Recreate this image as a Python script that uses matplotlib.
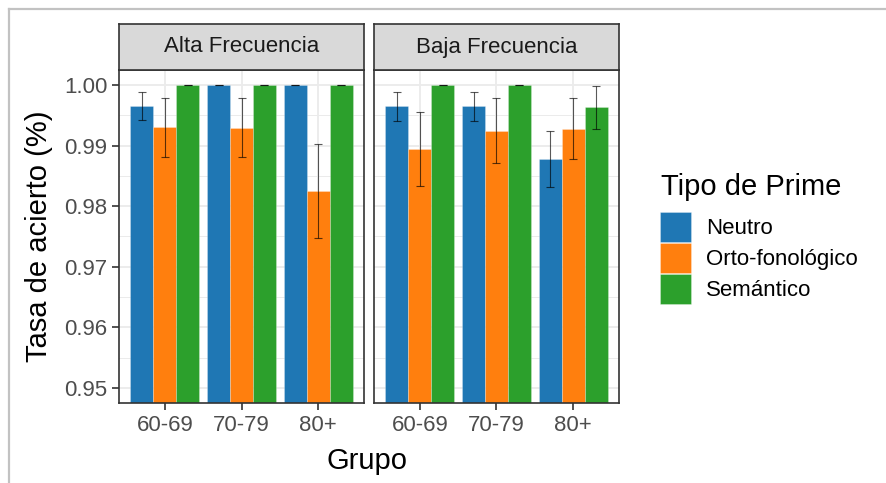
import matplotlib
matplotlib.use("Agg")
import matplotlib.pyplot as plt
import numpy as np
from matplotlib.patches import Rectangle
from matplotlib.lines import Line2D

plt.rcParams['font.family'] = ['Liberation Sans', 'DejaVu Sans']

grupos = ["60-69", "70-79", "80+"]
paneles = ["Alta Frecuencia", "Baja Frecuencia"]
tipos = ["Neutro", "Orto-fonológico", "Semántico"]
colores = ["#1F77B4", "#FF7F0E", "#2CA02C"]

# mean hit rate per panel -> prime type -> age group
alta_neutro = [0.99654, 1.0, 1.0]
alta_orto = [0.99302, 0.99295, 0.98253]
alta_sem = [1.0, 1.0, 1.0]
baja_neutro = [0.99654, 0.99654, 0.98775]
baja_orto = [0.98945, 0.99247, 0.99280]
baja_sem = [1.0, 1.0, 0.99637]

# error bar half-widths
alta_neutro_err = [0.00236, 0.0, 0.0]
alta_orto_err = [0.0049, 0.0049, 0.00775]
alta_sem_err = [0.0, 0.0, 0.0]
baja_neutro_err = [0.0024, 0.0024, 0.00465]
baja_orto_err = [0.00607, 0.00535, 0.0050]
baja_sem_err = [0.0, 0.0, 0.00355]

valores = [[alta_neutro, alta_orto, alta_sem], [baja_neutro, baja_orto, baja_sem]]
errores = [[alta_neutro_err, alta_orto_err, alta_sem_err],
           [baja_neutro_err, baja_orto_err, baja_sem_err]]

yticks = [0.95, 0.96, 0.97, 0.98, 0.99, 1.00]
ylo, yhi = 0.95 - 0.0025, 1.00 + 0.0025

W, H = 887, 483
fig = plt.figure(figsize=(W / 100, H / 100), dpi=100)

def fx(px):
    return px / W

def fy(py):
    return 1 - py / H

# light outer frame
fig.add_artist(Line2D([fx(9), fx(9)], [fy(9), 0], color="#C2C2C2", lw=1.6))
fig.add_artist(Line2D([fx(9), 1], [fy(9), fy(9)], color="#C2C2C2", lw=1.6))

panel_x = [(119, 364), (374, 619)]
top_px, bot_px, strip_top = 70, 403, 24
bw = 0.3
x = np.arange(len(grupos))

for p, (x0, x1) in enumerate(panel_x):
    ax = fig.add_axes([fx(x0), fy(bot_px), fx(x1 - x0), (bot_px - top_px) / H])
    ax.set_xlim(-0.6, len(grupos) - 0.4)
    ax.set_ylim(ylo, yhi)
    # grid
    for yv in yticks:
        ax.axhline(yv, color="#EBEBEB", lw=1.3, zorder=0)
    for yv in np.arange(0.955, 1.0, 0.01):
        ax.axhline(yv, color="#EBEBEB", lw=0.7, zorder=0)
    for xv in x:
        ax.axvline(xv, color="#EBEBEB", lw=1.3, zorder=0)
    for k in range(len(tipos)):
        pos = x + (k - 1) * bw
        ax.bar(pos, valores[p][k], width=bw, color=colores[k], zorder=2,
               edgecolor=(1, 1, 1, 0.35), linewidth=0.5)
        ax.errorbar(pos, valores[p][k], yerr=errores[p][k], fmt="none",
                    ecolor=(0, 0, 0, 0.65), elinewidth=0.8, capsize=3,
                    capthick=0.8, zorder=3)
    ax.set_xticks(x)
    ax.set_xticklabels(grupos)
    ax.set_yticks(yticks)
    if p == 0:
        ax.set_yticklabels([f"{v:.2f}" for v in yticks])
    else:
        ax.tick_params(axis="y", left=False, labelleft=False)
    ax.tick_params(axis="both", direction="out", length=5, width=1.2,
                   color="#333333", labelcolor="#4D4D4D", labelsize=16, pad=3.5)
    for s in ax.spines.values():
        s.set_color("#333333")
        s.set_linewidth(1.2)
        s.set_zorder(5)
    # strip
    sax = fig.add_axes([fx(x0), fy(top_px), fx(x1 - x0), (top_px - strip_top) / H])
    sax.set_xticks([])
    sax.set_yticks([])
    sax.set_facecolor("#D9D9D9")
    for s in sax.spines.values():
        s.set_color("#333333")
        s.set_linewidth(1.2)
    sax.text(0.5, 0.5, paneles[p], ha="center", va="center", fontsize=16,
             color="#1A1A1A", transform=sax.transAxes)

fig.text(fx(39), fy(236), "Tasa de acierto (%)", rotation=90, ha="center",
         va="center", fontsize=21, color="black")
fig.text(fx(367), fy(461), "Grupo", ha="center", va="center", fontsize=21,
         color="black")

# legend
fig.text(fx(661), fy(187), "Tipo de Prime", ha="left", va="center",
         fontsize=21, color="black")
for k, t in enumerate(tipos):
    y0 = 212 + k * 31
    fig.add_artist(Rectangle((fx(660), fy(y0 + 30)), fx(31), 30 / H,
                             facecolor=colores[k], edgecolor=(1, 1, 1, 0.4),
                             linewidth=0.5))
    fig.text(fx(706), fy(y0 + 16), t, ha="left", va="center", fontsize=16,
             color="black")

fig.savefig("out.png", dpi=100)
